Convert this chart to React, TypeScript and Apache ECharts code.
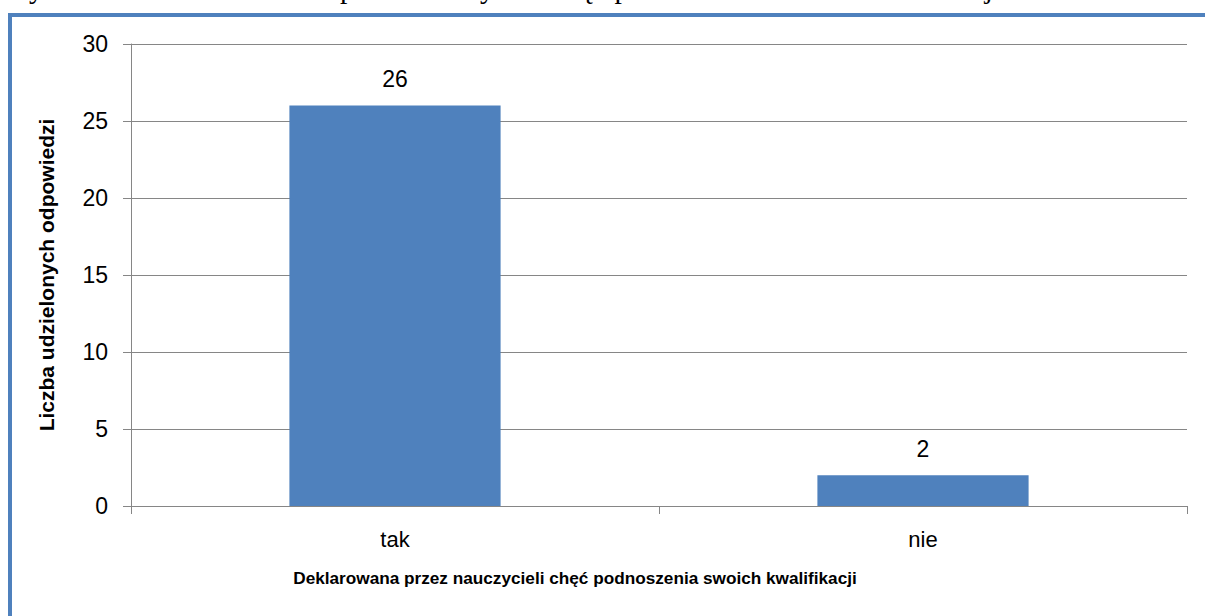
import React, { useEffect, useRef } from "react";
import * as echarts from "echarts";

const categories = ["tak", "nie"];
const values = [26, 2];
const yMin = 0;
const yMax = 30;
const yInterval = 5;
const yAxisName = "Liczba udzielonych odpowiedzi";
const xAxisName = "Deklarowana przez nauczycieli chęć podnoszenia swoich kwalifikacji";
const caption = "Wykres nr 11. Deklarowana przez nauczycieli chęć podnoszenia swoich kwalifikacji";

const FONT = "'Liberation Sans', Arial, sans-serif";

export default function App() {
  const ref = useRef<HTMLDivElement>(null);
  useEffect(() => {
    if (!ref.current) return;
    const chart = echarts.init(ref.current, null, { renderer: "svg" });
    chart.setOption({
      animation: false,
      backgroundColor: "#ffffff",
      textStyle: { fontFamily: FONT },
      grid: { left: 131, right: 18, top: 44, bottom: 110, containLabel: false },
      graphic: [
        {
          type: "text",
          left: 3,
          top: -27,
          style: {
            text: caption,
            font: "29.5px 'Liberation Serif', 'Times New Roman', serif",
            fill: "#000",
          },
        },
        {
          type: "rect",
          shape: { x: 10, y: 15, width: 1400, height: 800 },
          style: { fill: "none", stroke: "#4F81BD", lineWidth: 4 },
        },
      ],
      xAxis: {
        type: "category",
        data: categories,
        name: xAxisName,
        nameLocation: "middle",
        nameGap: 63,
        nameTextStyle: {
          fontSize: 17.2,
          fontWeight: "bold",
          color: "#000",
          fontFamily: FONT,
          padding: [0, 168, 0, 0],
        },
        axisLine: { show: true, lineStyle: { color: "#868686", width: 1 } },
        axisTick: { show: true, alignWithLabel: false, length: 8, lineStyle: { color: "#868686" } },
        axisLabel: { fontSize: 22, color: "#000", margin: 22, fontFamily: FONT },
      },
      yAxis: {
        type: "value",
        min: yMin,
        max: yMax,
        interval: yInterval,
        name: yAxisName,
        nameLocation: "middle",
        nameGap: 74,
        nameTextStyle: { fontSize: 21, fontWeight: "bold", color: "#000", fontFamily: FONT },
        axisLine: { show: true, lineStyle: { color: "#868686", width: 1 } },
        axisTick: { show: true, length: 8, lineStyle: { color: "#868686" } },
        axisLabel: { fontSize: 23, color: "#000", margin: 23, fontFamily: FONT },
        splitLine: { show: true, lineStyle: { color: "#868686", width: 1 } },
      },
      series: [
        {
          type: "bar",
          data: values,
          barWidth: "40%",
          itemStyle: { color: "#4F81BD" },
          label: {
            show: true,
            position: "top",
            distance: 15,
            fontSize: 23,
            color: "#000",
            fontFamily: FONT,
          },
        },
      ],
    });
    return () => chart.dispose();
  }, []);
  return (
    <div
      ref={ref}
      style={{ position: "absolute", left: 0, top: 0, width: 1205, height: 616 }}
    />
  );
}
